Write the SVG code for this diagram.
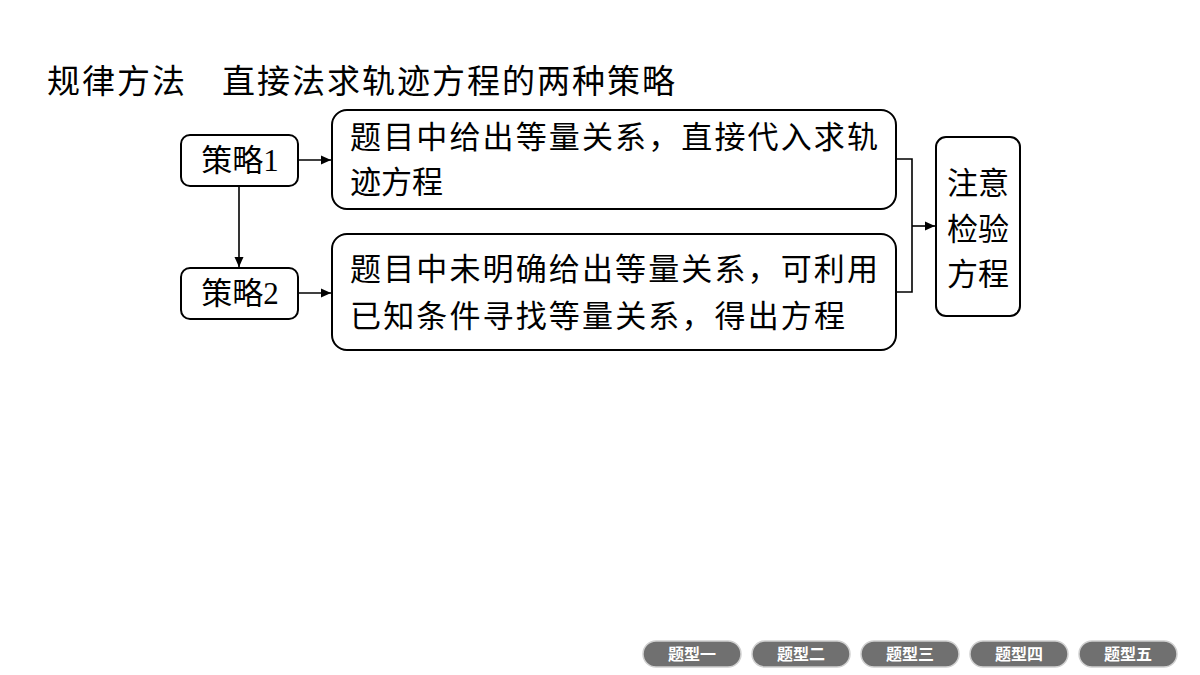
<svg xmlns="http://www.w3.org/2000/svg" width="1200" height="675" viewBox="0 0 1200 675">
<style>
.box{fill:#fff;stroke:#000;stroke-width:2}
.t{font-family:"Liberation Serif","Noto Sans CJK SC",serif;font-size:31px;fill:#000}
.title{font-family:"Noto Sans CJK SC",sans-serif;font-size:33px;fill:#000}
.ln{fill:none;stroke:#000;stroke-width:1.6}
.pill{fill:#707070;stroke:#d0d0d0;stroke-width:1.5}
.pt{font-family:"Noto Sans CJK SC",sans-serif;font-size:16px;font-weight:bold;fill:#fff;text-anchor:middle}
</style>
<defs>
<marker id="ah" viewBox="0 0 10 10" refX="10" refY="5" markerWidth="11" markerHeight="10" markerUnits="userSpaceOnUse" orient="auto"><path d="M0,0.5 L10,5 L0,9.5 z" fill="#000"/></marker>
</defs>
<rect width="1200" height="675" fill="#fff"/>
<text class="title" x="47" y="93" textLength="138">规律方法</text>
<text class="title" x="222" y="93" textLength="453">直接法求轨迹方程的两种策略</text>

<g id="connectors">
<path class="ln" d="M298,160 H331" marker-end="url(#ah)"/>
<path class="ln" d="M298,293 H331" marker-end="url(#ah)"/>
<path class="ln" d="M239,186 V267" marker-end="url(#ah)"/>
<path class="ln" d="M896,159 H912 V292 H896"/>
<path class="ln" d="M912,226 H935" marker-end="url(#ah)"/>
</g>

<g id="s1">
<rect class="box" x="181" y="135" width="117" height="51" rx="9"/>
<text class="t" x="240" y="171" text-anchor="middle">策略1</text>
</g>
<g id="s2">
<rect class="box" x="181" y="268" width="117" height="51" rx="9"/>
<text class="t" x="240" y="304" text-anchor="middle">策略2</text>
</g>
<g id="b1">
<rect class="box" x="332" y="110" width="564" height="99" rx="15"/>
<text class="t" x="350" y="148" textLength="528">题目中给出等量关系，直接代入求轨</text>
<text class="t" x="350" y="193">迹方程</text>
</g>
<g id="b2">
<rect class="box" x="332" y="234" width="564" height="116" rx="15"/>
<text class="t" x="350" y="280" textLength="528">题目中未明确给出等量关系，可利用</text>
<text class="t" x="350" y="327" textLength="495">已知条件寻找等量关系，得出方程</text>
</g>
<g id="r">
<rect class="box" x="936" y="137" width="84" height="179" rx="10"/>
<text class="t" x="978" y="194" text-anchor="middle">注意</text>
<text class="t" x="978" y="240" text-anchor="middle">检验</text>
<text class="t" x="978" y="285" text-anchor="middle">方程</text>
</g>

<g id="nav">
<rect class="pill" x="643" y="641" width="98" height="26" rx="13"/>
<text class="pt" x="692" y="660">题型一</text>
<rect class="pill" x="752" y="641" width="98" height="26" rx="13"/>
<text class="pt" x="801" y="660">题型二</text>
<rect class="pill" x="861" y="641" width="98" height="26" rx="13"/>
<text class="pt" x="910" y="660">题型三</text>
<rect class="pill" x="970" y="641" width="98" height="26" rx="13"/>
<text class="pt" x="1019" y="660">题型四</text>
<rect class="pill" x="1079" y="641" width="98" height="26" rx="13"/>
<text class="pt" x="1128" y="660">题型五</text>
</g>
</svg>
